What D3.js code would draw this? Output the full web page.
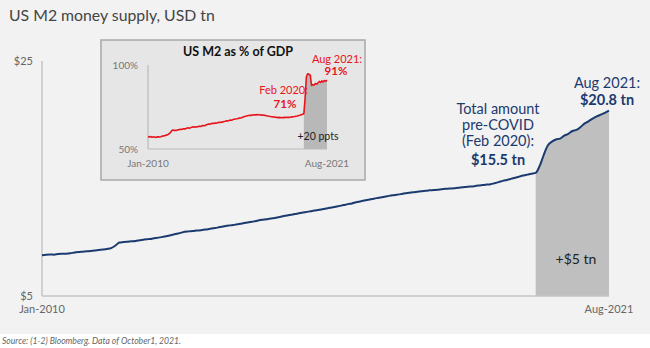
<!DOCTYPE html>
<html><head><meta charset="utf-8">
<script src="https://cdn.jsdelivr.net/npm/d3@7"></script>
<style>
html,body{margin:0;padding:0;background:#fff;}
svg{display:block;font-family:Lato,"Open Sans",sans-serif;}
</style></head>
<body><svg id="c" width="650" height="348"></svg>
<script>
// ---- data ----
const startMonth = "2010-01";
// US M2, USD tn, monthly Jan-2010 .. Aug-2021
const m2 = [
 8.47,8.52,8.53,8.52,8.57,8.59,8.60,8.64,8.70,8.74,8.77,8.80,
 8.83,8.87,8.91,8.95,9.00,9.08,9.28,9.55,9.59,9.62,9.65,9.68,
 9.75,9.80,9.84,9.88,9.93,9.99,10.06,10.13,10.21,10.29,10.37,10.47,
 10.50,10.53,10.57,10.60,10.65,10.70,10.76,10.82,10.89,10.96,11.01,11.05,
 11.10,11.17,11.23,11.30,11.35,11.42,11.48,11.53,11.59,11.64,11.70,11.78,
 11.85,11.92,11.97,12.04,12.10,12.16,12.22,12.28,12.34,12.40,12.46,12.53,
 12.60,12.67,12.74,12.82,12.88,12.98,13.05,13.12,13.19,13.26,13.33,13.38,
 13.44,13.52,13.58,13.62,13.67,13.74,13.78,13.83,13.87,13.91,13.95,13.99,
 14.02,14.05,14.09,14.12,14.14,14.17,14.21,14.25,14.28,14.31,14.35,14.40,
 14.44,14.48,14.52,14.60,14.69,14.80,14.88,14.97,15.07,15.16,15.25,15.33,
 15.41,15.48,16.05,17.00,17.80,18.14,18.32,18.40,18.64,18.80,19.04,19.13,
 19.38,19.69,19.87,20.10,20.29,20.44,20.59,20.78
];
// US M2 as % of GDP, monthly Jan-2010 .. Aug-2021
const m2gdp = [
 57.3,57.1,57.4,57.0,57.2,57.1,56.9,57.2,57.3,57.1,57.3,57.6,
 57.8,57.9,58.2,58.4,58.8,59.4,60.4,61.3,61.1,61.2,61.0,61.4,
 61.5,61.8,61.6,61.9,62.1,62.0,62.4,62.6,62.3,62.7,62.9,63.2,
 63.0,63.2,63.1,63.4,63.6,63.4,63.8,64.0,63.8,64.3,64.6,64.9,
 64.8,65.1,65.3,65.2,65.5,65.4,65.6,65.9,65.8,66.1,66.0,66.4,
 66.5,66.8,66.7,67.0,67.2,67.1,67.5,67.7,67.9,68.0,68.2,68.4,
 68.5,68.8,69.1,69.3,69.5,69.8,69.9,70.1,70.0,70.3,70.2,70.4,
 70.3,70.5,70.4,70.2,70.3,70.1,70.2,70.0,69.8,69.6,69.5,69.3,
 69.2,69.0,69.1,68.9,68.8,68.7,68.8,68.7,68.6,68.8,68.7,68.9,
 68.8,68.9,68.8,69.0,69.1,69.2,69.3,69.5,69.6,69.9,70.1,70.4,
 70.7,71.0,80.0,93.0,94.8,94.5,94.0,87.8,88.3,88.1,89.0,88.6,
 89.4,90.2,89.6,90.5,89.9,90.8,90.3,91.0
];
const covidStart = "2020-02";
const mainYTicks = [5, 25];
const insetYTicks = [50, 100];
const xTickLabels = ["Jan-2010", "Aug-2021"];

// ---- helpers ----
const parse = d3.timeParse("%Y-%m");
const t0 = parse(startMonth);
const dates = m2.map((_, i) => d3.timeMonth.offset(t0, i));
const tCovid = parse(covidStart);
const mainData = m2.map((v, i) => ({d: dates[i], v}));
const insetData = m2gdp.map((v, i) => ({d: dates[i], v}));

const svg = d3.select("#c");
svg.append("rect").attr("width",650).attr("height",334).attr("fill","#f2f2f2");

svg.append("text").attr("x",9).attr("y",21).attr("font-size",15.8).attr("fill","#444")
  .text("US M2 money supply, USD tn");

// ---- main chart ----
const x = d3.scaleTime().domain([dates[0], dates[dates.length-1]]).range([42, 609]);
const y = d3.scaleLinear().domain([5, 25]).range([296, 61]);
const navy = "#1b3a6f";

const covidMain = mainData.filter(p => p.d >= tCovid);
svg.append("path").datum(covidMain).attr("fill","#bfbfbf")
  .attr("d", d3.area().x(p=>x(p.d)).y0(y(5)).y1(p=>y(p.v)));

const axisColor = "#c4c4c4";
svg.append("line").attr("x1",x.range()[0]).attr("x2",x.range()[0]).attr("y1",y(25)).attr("y2",y(5))
  .attr("stroke",axisColor).attr("stroke-width",1.5);
svg.append("line").attr("x1",x.range()[0]).attr("x2",x.range()[1]).attr("y1",y(5)).attr("y2",y(5))
  .attr("stroke",axisColor).attr("stroke-width",1.5);

svg.append("path").datum(mainData).attr("fill","none").attr("stroke",navy).attr("stroke-width",2)
  .attr("stroke-linejoin","round")
  .attr("d", d3.line().x(p=>x(p.d)).y(p=>y(p.v)).curve(d3.curveMonotoneX));

mainYTicks.forEach(t => {
  svg.append("text").attr("x",33).attr("y",y(t)+4).attr("text-anchor","end")
    .attr("font-size",11).attr("fill","#666").text("$"+t);
});
svg.append("text").attr("x",x(dates[0])).attr("y",313).attr("text-anchor","middle")
  .attr("font-size",11).attr("fill","#666").text(xTickLabels[0]);
svg.append("text").attr("x",x(dates[dates.length-1])).attr("y",313).attr("text-anchor","middle")
  .attr("font-size",11).attr("fill","#666").text(xTickLabels[1]);

const preVal = mainData.find(p => +p.d === +tCovid).v;
const lastVal = m2[m2.length-1];
const ann1 = svg.append("text").attr("text-anchor","middle").attr("font-size",14.5).attr("fill",navy);
["Total amount","pre-COVID","(Feb 2020):"].forEach((s,i)=>{
  ann1.append("tspan").attr("x",498).attr("y",114+i*16).text(s);
});
ann1.append("tspan").attr("x",498).attr("y",165).attr("font-weight","bold").text("$"+preVal.toFixed(1)+" tn");

svg.append("text").attr("x",607).attr("y",88).attr("text-anchor","middle").attr("font-size",14.5)
  .attr("fill",navy).text("Aug 2021:");
svg.append("text").attr("x",607).attr("y",105).attr("text-anchor","middle").attr("font-size",14.5)
  .attr("font-weight","bold").attr("fill",navy).text("$"+lastVal.toFixed(1)+" tn");

svg.append("text").attr("x",576).attr("y",264).attr("text-anchor","middle").attr("font-size",14)
  .attr("fill","#222").text("+$"+Math.round(lastVal-preVal)+" tn");

// ---- inset ----
svg.append("rect").attr("x",101).attr("y",40).attr("width",264).attr("height",140)
  .attr("fill","#e6e6e6").attr("stroke","#a8a8a8").attr("stroke-width",1.5);
svg.append("text").attr("x",238).attr("y",56).attr("text-anchor","middle").attr("font-size",12.5)
  .attr("font-weight","bold").attr("fill","#111").text("US M2 as % of GDP");

const xi = d3.scaleTime().domain(x.domain()).range([148, 327]);
const yi = d3.scaleLinear().domain([50, 100]).range([149, 65]);
const red = "#e8141b";

const covidInset = insetData.filter(p => p.d >= tCovid);
svg.append("path").datum(covidInset).attr("fill","#b8b8b8")
  .attr("d", d3.area().x(p=>xi(p.d)).y0(yi(50)).y1(p=>yi(p.v)));

svg.append("line").attr("x1",148).attr("x2",148).attr("y1",yi(100)).attr("y2",yi(50))
  .attr("stroke","#bbb").attr("stroke-width",1.2);
svg.append("line").attr("x1",148).attr("x2",327).attr("y1",yi(50)).attr("y2",yi(50))
  .attr("stroke","#bbb").attr("stroke-width",1.2);

svg.append("path").datum(insetData).attr("fill","none").attr("stroke",red).attr("stroke-width",1.6)
  .attr("stroke-linejoin","round")
  .attr("d", d3.line().x(p=>xi(p.d)).y(p=>yi(p.v)));

insetYTicks.forEach(t=>{
  svg.append("text").attr("x",138).attr("y",yi(t)+4).attr("text-anchor","end")
    .attr("font-size",10).attr("fill","#777").text(t+"%");
});
svg.append("text").attr("x",148).attr("y",167).attr("text-anchor","middle").attr("font-size",10)
  .attr("fill","#777").text(xTickLabels[0]);
svg.append("text").attr("x",327).attr("y",167).attr("text-anchor","middle").attr("font-size",10)
  .attr("fill","#777").text(xTickLabels[1]);

const preG = insetData.find(p => +p.d === +tCovid).v;
const lastG = m2gdp[m2gdp.length-1];
svg.append("text").attr("x",308).attr("y",94).attr("text-anchor","end").attr("font-size",11)
  .attr("fill",red).text("Feb 2020:");
svg.append("text").attr("x",285).attr("y",108).attr("text-anchor","middle").attr("font-size",11.5)
  .attr("font-weight","bold").attr("fill",red).text(Math.round(preG)+"%");
svg.append("text").attr("x",337).attr("y",63).attr("text-anchor","middle").attr("font-size",11)
  .attr("fill",red).text("Aug 2021:");
svg.append("text").attr("x",336).attr("y",75).attr("text-anchor","middle").attr("font-size",11.5)
  .attr("font-weight","bold").attr("fill",red).text(Math.round(lastG)+"%");
svg.append("text").attr("x",318).attr("y",140).attr("text-anchor","middle").attr("font-size",10.5)
  .attr("fill","#222").text("+"+Math.round(lastG-preG)+" ppts");

// ---- source ----
svg.append("text").attr("x",2).attr("y",344).attr("font-size",8.6).attr("font-style","italic")
  .attr("fill","#666").text("Source:  (1-2) Bloomberg. Data of October1, 2021.");
</script>
</body></html>
